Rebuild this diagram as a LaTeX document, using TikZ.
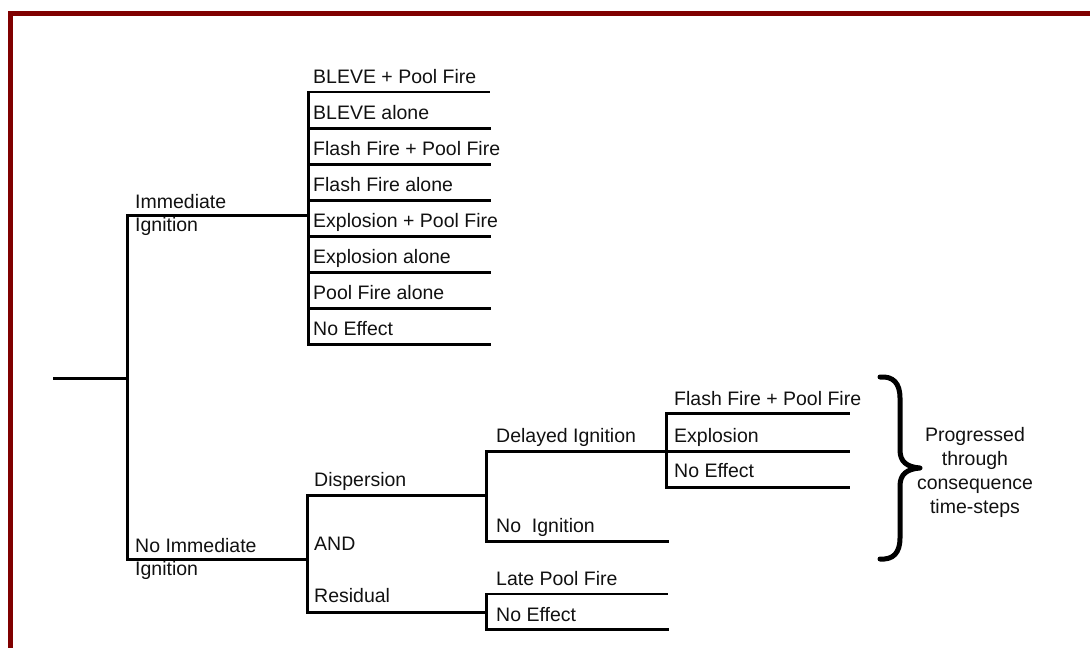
\documentclass[tikz,border=0pt]{standalone}
\usepackage{fontspec}
\setmainfont{Liberation Sans}
\definecolor{framered}{HTML}{800000}
\definecolor{ink}{HTML}{111111}
\begin{document}
\begin{tikzpicture}[x=1pt,y=-1pt,
  branch/.style={draw=black,line width=3pt,line cap=rect},
  thinbranch/.style={draw=black,line width=2pt,line cap=rect},
  lbl/.style={anchor=base west,inner sep=0pt,text=ink,font=\fontsize{19.5}{22}\selectfont},
  note/.style={align=center,inner sep=0pt,text=ink,font=\fontsize{19.5}{24}\selectfont}]
\useasboundingbox (0,0) rectangle (1090,648);
% frame
\fill[framered] (8,11) rectangle (1090,16);
\fill[framered] (8,11) rectangle (12.5,648);

% junction coordinates
\coordinate (root0) at (54,378);
\coordinate (root) at (127,378);
\coordinate (iiA) at (127,215);
\coordinate (iiB) at (308,215);
\coordinate (niA) at (127,559);
\coordinate (niB) at (307,559);
\coordinate (lvT) at (308,92);
\coordinate (lvB) at (308,344);
\coordinate (dA) at (307,495);
\coordinate (dB) at (486,495);
\coordinate (rA) at (307,612);
\coordinate (rB) at (486,612);
\coordinate (diA) at (486,451);
\coordinate (diB) at (848,451);
\coordinate (noA) at (486,541);
\coordinate (noB) at (667,541);
\coordinate (svT) at (666,413);
\coordinate (svB) at (666,487);
\coordinate (svTe) at (848,413);
\coordinate (svBe) at (848,487);
\coordinate (rvT) at (486,594);
\coordinate (rvB) at (486,629);
\coordinate (rvTe) at (667,594);
\coordinate (rvBe) at (667,629);

% main tree
\draw[branch] (root0) -- (root);
\draw[branch] (iiA) -- (niA);
\draw[branch] (iiA) -- (iiB);
\draw[branch] (niA) -- (niB);
\draw[branch] (lvT) -- (lvB);
% leaves of immediate ignition
\foreach \i/\yy in {0/92,1/128,2/164,3/200,4/236,5/272,6/308,7/344}{
  \coordinate (l\i a) at (308,\yy);
  \coordinate (l\i b) at (489,\yy);
}
\draw[thinbranch] (l0a) -- (l0b);
\foreach \i in {1,...,7}{ \draw[branch] (l\i a) -- (l\i b); }

% no immediate ignition
\draw[branch] (dA) -- (rA);
\draw[branch] (dA) -- (dB);
\draw[branch] (rA) -- (rB);
\draw[branch] (diA) -- (noA);
\draw[branch] (diA) -- (diB);
\draw[branch] (noA) -- (noB);
\draw[branch] (svT) -- (svB);
\draw[branch] (svT) -- (svTe);
\draw[branch] (svB) -- (svBe);
\draw[branch] (rvT) -- (rvB);
\draw[thinbranch] (rvT) -- (rvTe);
\draw[branch] (rvB) -- (rvBe);

% labels
\node[lbl] (t0) at (313,83) {BLEVE + Pool Fire};
\node[lbl] (t1) at (313,119) {BLEVE alone};
\node[lbl] (t2) at (313,155) {Flash Fire + Pool Fire};
\node[lbl] (t3) at (313,191) {Flash Fire alone};
\node[lbl] (t4) at (313,227) {Explosion + Pool Fire};
\node[lbl] (t5) at (313,263) {Explosion alone};
\node[lbl] (t6) at (313,299) {Pool Fire alone};
\node[lbl] (t7) at (313,335) {No Effect};

\node[lbl] (imm1) at (135,208) {Immediate};
\node[lbl] (imm2) at (135,231) {Ignition};
\node[lbl] (nim1) at (135,552) {No Immediate};
\node[lbl] (nim2) at (135,575) {Ignition};

\node[lbl] (disp) at (314,486) {Dispersion};
\node[lbl] (and) at (314,550) {AND};
\node[lbl] (resid) at (314,602) {Residual};

\node[lbl] (delay) at (496,442) {Delayed Ignition};
\node[lbl] (noign) at (496,532) {No\ \ Ignition};
\node[lbl] (late) at (496,585) {Late Pool Fire};
\node[lbl] (noeff2) at (496,621) {No Effect};

\node[lbl] (ffpf) at (674,405) {Flash Fire + Pool Fire};
\node[lbl] (expl) at (674,442) {Explosion};
\node[lbl] (noeff1) at (674,477) {No Effect};

% brace
\coordinate (brT) at (880,377);
\coordinate (brTip) at (920,468);
\coordinate (brB) at (880,559);
\draw[line width=5pt,line cap=round,line join=round]
  (brT) .. controls (893,376) and (900,383) .. (900,398)
  -- (900,450) .. controls (900,462) and (907,467) .. (brTip)
  .. controls (907,469) and (900,474) .. (900,486)
  -- (900,538) .. controls (900,553) and (893,560) .. (brB);

\node[note,anchor=north] (prog) at (975,427) {Progressed\\through\\consequence\\time-steps};
\end{tikzpicture}
\end{document}
